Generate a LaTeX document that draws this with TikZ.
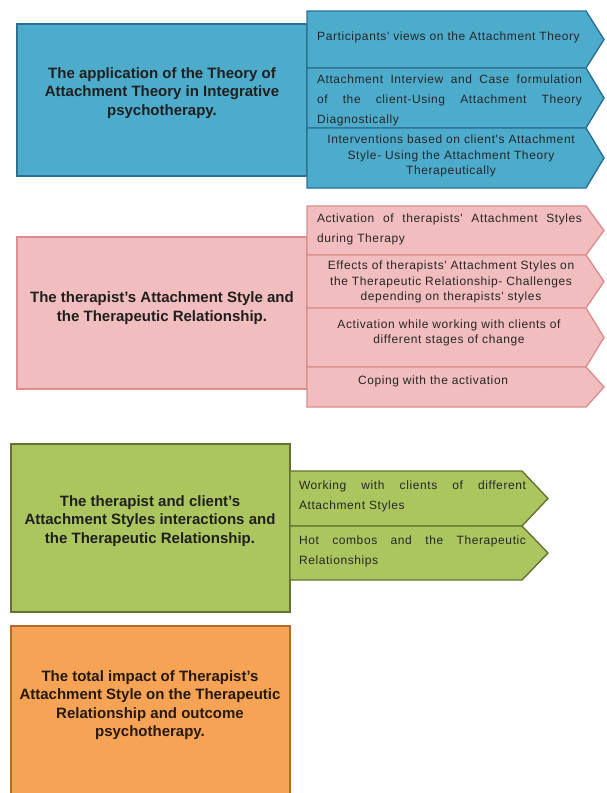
\documentclass[tikz,border=0pt]{standalone}
\usepackage{fontspec}
\setmainfont{Liberation Sans}
\newfontfamily\armfont{Liberation Sans}[LetterSpace=5.0]
\usepackage{tikz}
\pretolerance=-1
\tolerance=10000
\hbadness=10000

\definecolor{aqua}{HTML}{4DACCC}
\definecolor{aquadark}{HTML}{2A7096}
\definecolor{rose}{HTML}{F2BDBE}
\definecolor{rosedark}{HTML}{DC8E8E}
\definecolor{olive}{HTML}{ACC65F}
\definecolor{olivedark}{HTML}{647332}
\definecolor{tangerine}{HTML}{F6A355}
\definecolor{tangerinedark}{HTML}{B4692D}

\begin{document}
\begin{tikzpicture}[x=1pt,y=-1pt,
  mainbox/.style={line width=1.8pt},
  armbox/.style={line width=1.4pt,line join=miter},
  maintext/.style={font=\bfseries\fontsize{15}{18.5}\selectfont,align=center,text=black!88,inner sep=0pt},
  armtext/.style={font=\armfont\fontsize{12}{15.5}\selectfont,text=black!85,inner sep=0pt},
  armjust/.style={armtext,text width=265pt,align=justify,font=\armfont\fontsize{12}{20}\selectfont},
  armmid/.style={armtext,align=center}]
\useasboundingbox (0,0) rectangle (606,793);

% application of attachment theory
\draw[mainbox,draw=aquadark,fill=aqua] (17,24) rectangle (307,176);
\node[maintext] (applic) at (162,93) {The application of the Theory of\\Attachment Theory in Integrative\\psychotherapy.};
\draw[armbox,draw=aquadark,fill=aqua] (307,11) -- (586,11) -- (604,39.5) -- (586,68) -- (307,68) -- cycle;
\draw[armbox,draw=aquadark,fill=aqua] (307,68) -- (586,68) -- (604,98) -- (586,128) -- (307,128) -- cycle;
\draw[armbox,draw=aquadark,fill=aqua] (307,128) -- (586,128) -- (604,158) -- (586,188) -- (307,188) -- cycle;
\node[armtext,anchor=west] (views) at (317,37) {Participants' views on the Attachment Theory};
\node[armjust] (diagn) at (449.5,100) {Attachment Interview and Case formulation\linebreak of the client-Using Attachment Theory\linebreak Diagnostically};
\node[armmid] (interv) at (451,156) {Interventions based on client's Attachment\\Style- Using the Attachment Theory\\Therapeutically};

% therapist's style
\draw[mainbox,draw=rosedark,fill=rose] (17,237) rectangle (307,389);
\node[maintext] (style) at (162,308) {The therapist's Attachment Style and\\the Therapeutic Relationship.};
\draw[armbox,draw=rosedark,fill=rose] (307,206) -- (586,206) -- (604,230.5) -- (586,255) -- (307,255) -- cycle;
\draw[armbox,draw=rosedark,fill=rose] (307,255) -- (586,255) -- (604,281.5) -- (586,308) -- (307,308) -- cycle;
\draw[armbox,draw=rosedark,fill=rose] (307,308) -- (586,308) -- (604,337.5) -- (586,367) -- (307,367) -- cycle;
\draw[armbox,draw=rosedark,fill=rose] (307,367) -- (586,367) -- (604,387) -- (586,407) -- (307,407) -- cycle;
\node[armjust] (activ) at (449.5,229) {Activation of therapists' Attachment Styles\linebreak during Therapy};
\node[armmid] (effects) at (451,282) {Effects of therapists' Attachment Styles on\\the Therapeutic Relationship- Challenges\\depending on therapists' styles};
\node[armmid] (stages) at (449,333) {Activation while working with clients of\\different stages of change};
\node[armmid] (coping) at (433,381) {Coping with the activation};

% interactions
\draw[mainbox,draw=olivedark,fill=olive] (11,444) rectangle (290,612);
\node[maintext] (interact) at (150,521) {The therapist and client's\\Attachment Styles interactions and\\the Therapeutic Relationship.};
\draw[armbox,draw=olivedark,fill=olive] (290,471) -- (522,471) -- (548,498.5) -- (522,526) -- (290,526) -- cycle;
\draw[armbox,draw=olivedark,fill=olive] (290,526) -- (522,526) -- (548,553) -- (522,580) -- (290,580) -- cycle;
\node[armjust,text width=227pt] (working) at (412.5,496) {Working with clients of different\linebreak Attachment Styles};
\node[armjust,text width=227pt] (combos) at (412.5,551) {Hot combos and the Therapeutic\linebreak Relationships};

% total impact
\draw[mainbox,draw=tangerinedark,fill=tangerine] (11,626) rectangle (290,800);
\node[maintext,text=black!80!brown] (impact) at (150,705) {The total impact of Therapist's\\Attachment Style on the Therapeutic\\Relationship and outcome\\psychotherapy.};
\end{tikzpicture}
\end{document}
